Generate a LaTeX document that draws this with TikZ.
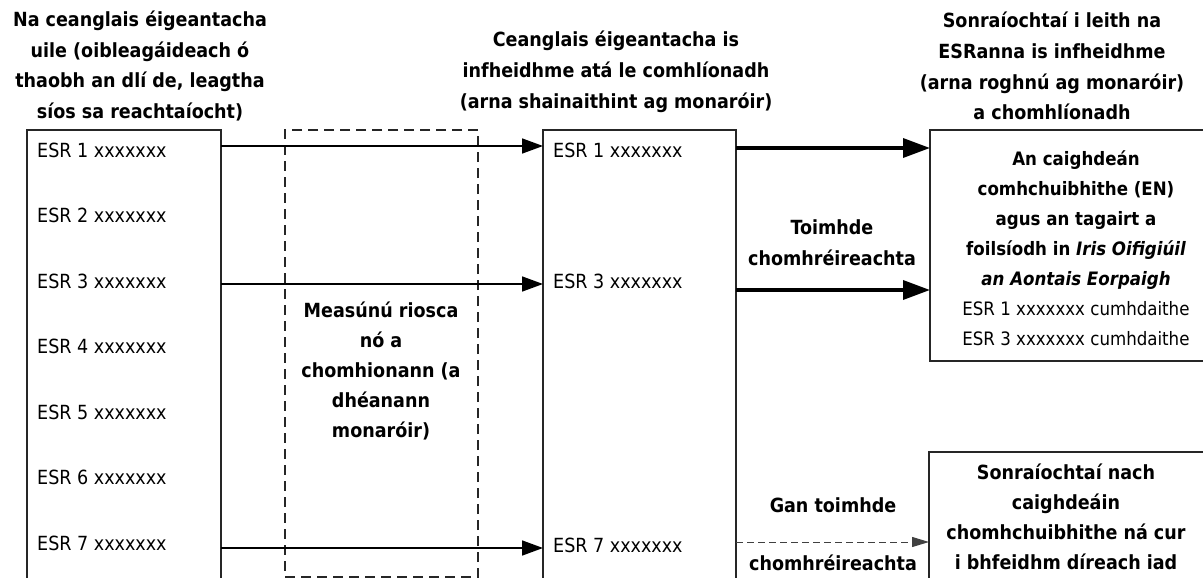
\documentclass[tikz,border=0pt]{standalone}
\usepackage{fontspec}
\IfFontExistsTF{DejaVu Sans Condensed}{\setmainfont{DejaVu Sans Condensed}}{\setmainfont[FakeStretch=0.9]{DejaVu Sans}}
\usetikzlibrary{arrows.meta}
\tikzset{
  box/.style={draw=black!85, line width=1.2pt, anchor=north west, inner sep=0pt, outer sep=0pt},
  dbox/.style={box, dash pattern=on 10pt off 6pt},
  reg/.style={font=\fontsize{19.5}{30}\selectfont, inner sep=0pt, anchor=west},
  bld/.style={font=\fontsize{19.5}{30.7}\selectfont\bfseries, align=center, inner sep=0pt},
  thinarr/.style={line width=1.6pt, -{Triangle[length=21pt,width=15pt]}},
  thickarr/.style={line width=3.5pt, -{Triangle[length=27pt,width=19pt]}},
  dasharr/.style={line width=1pt, black!75, dash pattern=on 7pt off 4pt, -{Triangle[length=17pt,width=10pt]}},
}
\begin{document}
\begin{tikzpicture}[x=1pt,y=-1pt]
\useasboundingbox (0,0) rectangle (1203,578);
\clip (0,0) rectangle (1203,578);
\fill[white] (0,0) rectangle (1203,578);

% titles
\node[bld] (t1) at (140,66) {Na ceanglais éigeantacha\\uile (oibleagáideach ó\\thaobh an dlí de, leagtha\\síos sa reachtaíocht)};
\node[bld] (t2) at (616,72) {Ceanglais éigeantacha is\\infheidhme atá le comhlíonadh\\(arna shainaithint ag monaróir)};
\node[bld] (t3) at (1052,66) {Sonraíochtaí i leith na\\ESRanna is infheidhme\\(arna roghnú ag monaróir)\\a chomhlíonadh};

% boxes
\node[box, minimum width=194pt, minimum height=460pt] (lbox) at (27,130) {};
\node[dbox, minimum width=193pt, minimum height=447pt] (dbx) at (285,130) {};
\node[box, minimum width=193pt, minimum height=460pt] (mbox) at (543,130) {};
\node[box, minimum width=280pt, minimum height=231pt] (rbox) at (930,130) {};
\node[box, minimum width=281pt, minimum height=150pt] (rbox2) at (929,452) {};

% left column
\node[reg] (l1) at (37,150) {ESR 1 xxxxxxx};
\node[reg] (l2) at (37,215.5) {ESR 2 xxxxxxx};
\node[reg] (l3) at (37,281) {ESR 3 xxxxxxx};
\node[reg] (l4) at (37,346.5) {ESR 4 xxxxxxx};
\node[reg] (l5) at (37,412) {ESR 5 xxxxxxx};
\node[reg] (l6) at (37,477.5) {ESR 6 xxxxxxx};
\node[reg] (l7) at (37,543) {ESR 7 xxxxxxx};

% dashed box text
\node[bld, font=\fontsize{19.5}{30}\selectfont\bfseries] (risk) at (381,371) {Measúnú riosca\\nó a\\chomhionann (a\\dhéanann\\monaróir)};

% middle column
\node[reg] (m1) at (553,150) {ESR 1 xxxxxxx};
\node[reg] (m3) at (553,281) {ESR 3 xxxxxxx};
\node[reg] (m7) at (553,545) {ESR 7 xxxxxxx};

% right boxes text
\node[align=center, inner sep=0pt, font=\fontsize{18.5}{30}\selectfont] (rtxt) at (1076,248)
  {{\bfseries An caighdeán}\\{\bfseries comhchuibhithe (EN)}\\{\bfseries agus an tagairt a}\\{\bfseries foilsíodh in \itshape Iris Oifigiúil}\\{\bfseries\itshape an Aontais Eorpaigh}\\ESR 1 xxxxxxx cumhdaithe\\ESR 3 xxxxxxx cumhdaithe};
\node[bld, font=\fontsize{19.5}{30}\selectfont\bfseries] (r2txt) at (1066,517) {Sonraíochtaí nach\\caighdeáin\\chomhchuibhithe ná cur\\i bhfeidhm díreach iad};

% labels
\node[bld] (lab1) at (832,243) {Toimhde\\chomhréireachta};
\node[bld] (lab2) at (833,505) {Gan toimhde};
\node[bld] (lab3) at (833,563) {chomhréireachta};

% connectors
\draw[thinarr] (lbox.east |- 0,146) -- (mbox.west |- 0,146);
\draw[thinarr] (lbox.east |- 0,284) -- (mbox.west |- 0,284);
\draw[thinarr] (lbox.east |- 0,548) -- (mbox.west |- 0,548);
\draw[thickarr] (mbox.east |- 0,148) -- (rbox.west |- 0,148);
\draw[thickarr] (mbox.east |- 0,290) -- (rbox.west |- 0,290);
\draw[dasharr] (mbox.east |- 0,542) -- (rbox2.west |- 0,542);
\end{tikzpicture}
\end{document}
